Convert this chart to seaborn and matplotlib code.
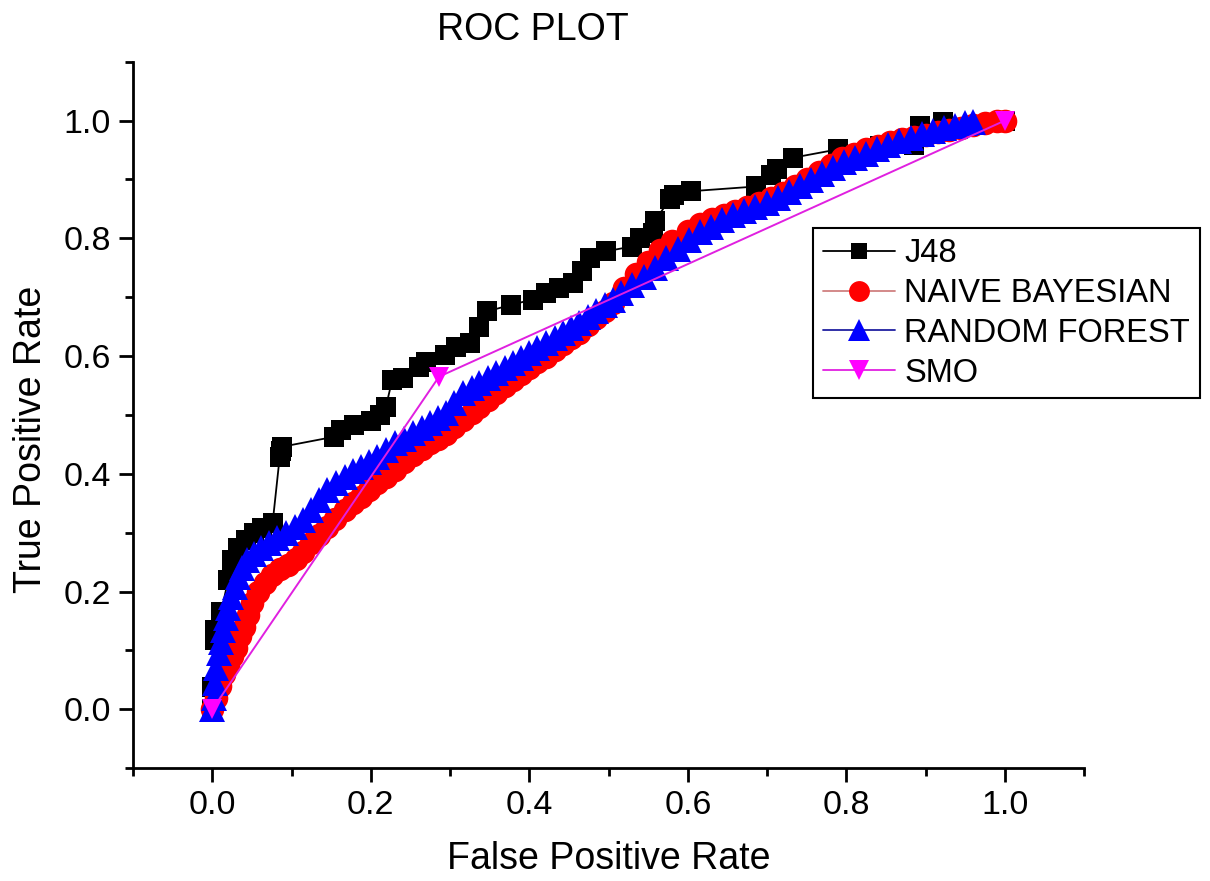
import numpy as np
import pandas as pd
import matplotlib
matplotlib.use("Agg")
import matplotlib.pyplot as plt
from matplotlib.ticker import MultipleLocator
from matplotlib.lines import Line2D
import seaborn as sns

# ---------------- data ----------------
j48_fpr = [0.0, 0.0, 0.003, 0.003, 0.011, 0.02, 0.025, 0.032, 0.043, 0.053, 0.063, 0.076,
           0.085, 0.087, 0.088, 0.154, 0.162, 0.179, 0.2, 0.212, 0.219, 0.227, 0.24, 0.261,
           0.27, 0.293, 0.308, 0.325, 0.337, 0.347, 0.377, 0.404, 0.421, 0.438, 0.455,
           0.466, 0.476, 0.497, 0.529, 0.539, 0.556, 0.558, 0.577, 0.583, 0.604, 0.686,
           0.705, 0.712, 0.733, 0.789, 0.842, 0.885, 0.893, 0.922, 1.0]
j48_tpr = [0.0, 0.038, 0.117, 0.134, 0.165, 0.22, 0.253, 0.274, 0.287, 0.299, 0.308, 0.316,
           0.429, 0.438, 0.446, 0.463, 0.474, 0.483, 0.489, 0.5, 0.514, 0.56, 0.563, 0.582,
           0.59, 0.602, 0.616, 0.622, 0.65, 0.676, 0.687, 0.696, 0.707, 0.716, 0.724,
           0.745, 0.767, 0.778, 0.786, 0.8, 0.809, 0.829, 0.866, 0.874, 0.88, 0.888,
           0.908, 0.917, 0.937, 0.951, 0.956, 0.958, 0.99, 0.997, 1.0]

nb_fpr = [0.0, 0.005, 0.01, 0.015, 0.02, 0.025, 0.03, 0.035, 0.04, 0.045, 0.05, 0.058,
          0.066, 0.075, 0.085, 0.095, 0.105, 0.115, 0.125, 0.135, 0.145, 0.155, 0.167,
          0.177, 0.188, 0.198, 0.208, 0.219, 0.23, 0.242, 0.253, 0.264, 0.275, 0.285,
          0.295, 0.305, 0.316, 0.327, 0.337, 0.348, 0.358, 0.369, 0.379, 0.39, 0.4, 0.41,
          0.421, 0.432, 0.442, 0.453, 0.463, 0.474, 0.484, 0.495, 0.505, 0.52, 0.535,
          0.55, 0.565, 0.58, 0.6, 0.615, 0.63, 0.645, 0.66, 0.675, 0.69, 0.705, 0.72,
          0.735, 0.75, 0.765, 0.78, 0.795, 0.81, 0.825, 0.84, 0.855, 0.87, 0.885, 0.9,
          0.915, 0.93, 0.945, 0.96, 0.975, 0.99, 1.0]
nb_tpr = [0.0, 0.02, 0.04, 0.06, 0.075, 0.09, 0.105, 0.125, 0.14, 0.16, 0.18, 0.2,
          0.215, 0.228, 0.238, 0.246, 0.255, 0.268, 0.282, 0.296, 0.31, 0.324, 0.338,
          0.35, 0.361, 0.373, 0.384, 0.395, 0.406, 0.42, 0.432, 0.442, 0.452, 0.46,
          0.468, 0.48, 0.492, 0.503, 0.514, 0.526, 0.538, 0.549, 0.56, 0.57, 0.58, 0.59,
          0.599, 0.61, 0.62, 0.63, 0.639, 0.652, 0.665, 0.677, 0.69, 0.715, 0.74,
          0.76, 0.78, 0.795, 0.812, 0.824, 0.832, 0.84, 0.847, 0.853, 0.86, 0.868, 0.877,
          0.888, 0.9, 0.912, 0.925, 0.936, 0.944, 0.951, 0.957, 0.963, 0.968, 0.972, 0.976,
          0.98, 0.984, 0.988, 0.992, 0.996, 0.999, 1.0]

rf_fpr = [0.0, 0.002, 0.003, 0.005, 0.008, 0.011, 0.014, 0.017, 0.02, 0.024, 0.028, 0.032,
          0.037, 0.044, 0.052, 0.061, 0.071, 0.082, 0.093, 0.104, 0.114, 0.125, 0.135,
          0.145, 0.156, 0.167, 0.177, 0.188, 0.198, 0.208, 0.219, 0.23, 0.242, 0.253,
          0.264, 0.275, 0.285, 0.295, 0.305, 0.316, 0.327, 0.337, 0.348, 0.358, 0.369,
          0.379, 0.39, 0.4, 0.41, 0.421, 0.432, 0.442, 0.453, 0.463, 0.474, 0.484, 0.495,
          0.505, 0.516, 0.53, 0.544, 0.558, 0.573, 0.587, 0.601, 0.615, 0.629, 0.643,
          0.657, 0.671, 0.685, 0.7, 0.714, 0.727, 0.741, 0.755, 0.769, 0.783, 0.797,
          0.811, 0.825, 0.839, 0.853, 0.867, 0.881, 0.895, 0.909, 0.923, 0.937, 0.95, 0.96]
rf_tpr = [0.0, 0.02, 0.045, 0.07, 0.095, 0.115, 0.135, 0.155, 0.172, 0.19, 0.208, 0.225,
          0.24, 0.253, 0.264, 0.274, 0.283, 0.291, 0.3, 0.31, 0.322, 0.338, 0.355,
          0.372, 0.385, 0.395, 0.404, 0.412, 0.42, 0.429, 0.44, 0.452, 0.46, 0.469,
          0.478, 0.486, 0.494, 0.503, 0.52, 0.537, 0.546, 0.554, 0.563, 0.571, 0.58,
          0.588, 0.597, 0.605, 0.613, 0.622, 0.63, 0.639, 0.647, 0.656, 0.666, 0.676, 0.686,
          0.696, 0.707, 0.72, 0.735, 0.75, 0.767, 0.782, 0.797, 0.81, 0.82, 0.831,
          0.84, 0.846, 0.853, 0.86, 0.869, 0.878, 0.888, 0.899, 0.91, 0.92, 0.929,
          0.937, 0.944, 0.951, 0.958, 0.965, 0.971, 0.977, 0.982, 0.987, 0.991, 0.995, 0.998]

smo_fpr = [0.0, 0.286, 1.0]
smo_tpr = [0.0, 0.565, 1.0]

series_names = ["J48", "NAIVE BAYESIAN", "RANDOM FOREST", "SMO"]
x_ticks = [0.0, 0.2, 0.4, 0.6, 0.8, 1.0]
y_ticks = [0.0, 0.2, 0.4, 0.6, 0.8, 1.0]

# ---------------- style ----------------
sns.set_style("ticks")
plt.rcParams["font.family"] = ["Liberation Sans", "DejaVu Sans"]
plt.rcParams["text.color"] = "black"
plt.rcParams["axes.labelcolor"] = "black"
plt.rcParams["xtick.color"] = "black"
plt.rcParams["ytick.color"] = "black"
plt.rcParams["axes.edgecolor"] = "black"

fig = plt.figure(figsize=(12.1, 8.81), dpi=100)
ax = fig.add_axes([0.110, 0.128, 0.786, 0.802])

common = dict(ax=ax, sort=False, estimator=None, legend=False)

sns.lineplot(x=j48_fpr, y=j48_tpr, color="black", linewidth=1.3, marker="s",
             markersize=14, markeredgewidth=0, markerfacecolor="black", **common)
sns.lineplot(x=nb_fpr, y=nb_tpr, color="#e06060", linewidth=1.0, marker="o",
             markersize=17, markeredgewidth=0, markerfacecolor="#ff0000", **common)
sns.lineplot(x=rf_fpr, y=rf_tpr, color="#2020a0", linewidth=1.0, marker="^",
             markersize=19, markeredgewidth=0, markerfacecolor="#0000ff", **common)
sns.lineplot(x=smo_fpr, y=smo_tpr, color="#e020e0", linewidth=1.4, marker="v",
             markersize=15, markeredgewidth=0, markerfacecolor="#ff00ff", **common)

ax.set_xlim(-0.1, 1.1)
ax.set_ylim(-0.1, 1.1)
ax.set_xticks(x_ticks)
ax.set_yticks(y_ticks)
ax.set_xticklabels([f"{v:.1f}" for v in x_ticks])
ax.set_yticklabels([f"{v:.1f}" for v in y_ticks])
ax.xaxis.set_minor_locator(MultipleLocator(0.1))
ax.yaxis.set_minor_locator(MultipleLocator(0.1))
ax.tick_params(which="major", direction="out", length=10, width=2, labelsize=24.5,
               color="black", labelcolor="black", pad=6)
ax.tick_params(which="minor", direction="out", length=6, width=2, color="black")

for side in ["top", "right"]:
    ax.spines[side].set_visible(False)
for side in ["left", "bottom"]:
    ax.spines[side].set_linewidth(2)
    ax.spines[side].set_color("black")

ax.set_xlabel("False Positive Rate", fontsize=27, labelpad=14, color="black")
ax.set_ylabel("True Positive Rate", fontsize=27, color="black")
ax.yaxis.set_label_coords(-0.088, 0.465)

fig.text(0.44, 0.966, "ROC PLOT", fontsize=27, ha="center", va="center", color="black")

# legend
handles = [
    Line2D([], [], color="black", lw=1.3, marker="s", markersize=12, mfc="black", mew=0),
    Line2D([], [], color="#d08080", lw=1.3, marker="o", markersize=15, mfc="#ff0000", mew=0),
    Line2D([], [], color="#2020a0", lw=1.3, marker="^", markersize=16, mfc="#0000ff", mew=0),
    Line2D([], [], color="#e020e0", lw=1.3, marker="v", markersize=15, mfc="#ff00ff", mew=0),
]
leg = ax.legend(handles, series_names, loc="upper left", bbox_to_anchor=(0.715, 0.764),
                fontsize=23.5, frameon=True, fancybox=False, framealpha=1,
                edgecolor="black", handlelength=2.2, handletextpad=0.3,
                labelspacing=0.27, borderpad=0.3, borderaxespad=0)
leg.get_frame().set_linewidth(1.5)
for t in leg.get_texts():
    t.set_color("black")

fig.savefig("out.png", dpi=100)
